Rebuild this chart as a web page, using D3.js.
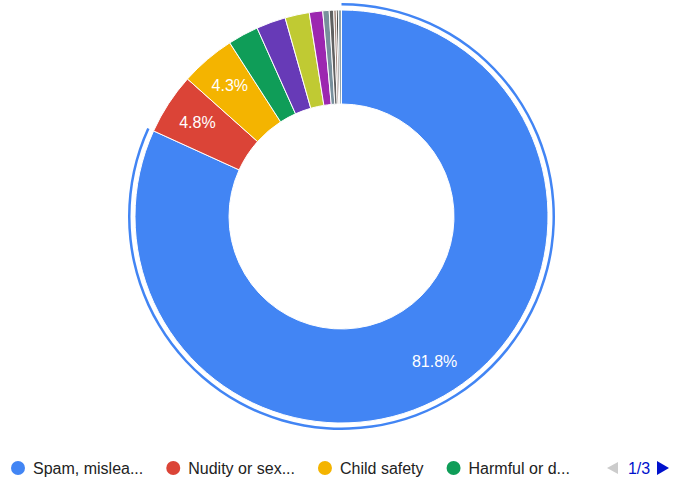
<!DOCTYPE html>
<html>
<head>
<meta charset="utf-8">
<script src="https://cdn.jsdelivr.net/npm/d3@7"></script>
<style>
    body { margin: 0; background: #ffffff; }
    svg { display: block; font-family: Arial, "Liberation Sans", sans-serif; }
</style>
</head>
<body>
<div id="chart"></div>
<script>
// Data
const categories = [
    "Spam, misleading and scams", "Nudity or sexual content", "Child safety",
    "Harmful or dangerous", "Violent or graphic", "Harassment and cyberbullying",
    "Promotion of violence", "Hateful or abusive", "Other", "Impersonation",
    "Misinformation", "Terrorist content"
];
const shares = [81.8, 4.8, 4.3, 2.4, 2.3, 1.9, 1.05, 0.5, 0.35, 0.2, 0.15, 0.25];
const colors = ["#4285f4", "#db4437", "#f4b400", "#0f9d58", "#673ab7", "#c0ca33",
                "#9c27b0", "#78909c", "#616161", "#a1887f", "#212121", "#90a4ae"];
const legendLabels = ["Spam, mislea...", "Nudity or sex...", "Child safety", "Harmful or d..."];
const pageLabel = "1/3";

const params = {
    selector: "chart",
    width: 673,
    height: 487,
    cx: 341.5,
    cy: 216.5,
    outer: 206.5,
    inner: 112.5,
    labelR: 172,
    legendY: 468
}

const svg = d3.select(`#${params.selector}`)
    .append("svg")
    .attr("width", params.width)
    .attr("height", params.height);

const total = d3.sum(shares);
const pie = d3.pie().sort(null).value(d => d);
const arcs = pie(shares);

const arc = d3.arc().innerRadius(params.inner).outerRadius(params.outer);
const labelArc = d3.arc().innerRadius(params.labelR).outerRadius(params.labelR);
const ringArc = d3.arc().innerRadius(211).outerRadius(213.5);

const g = svg.append("g")
    .attr("transform", `translate(${params.cx},${params.cy})`);

g.selectAll("path.slice")
    .data(arcs)
    .join("path")
    .attr("class", "slice")
    .attr("d", arc)
    .attr("fill", (d, i) => colors[i])
    .attr("stroke", "#ffffff")
    .attr("stroke-width", 1);

// hover ring on the first slice
g.append("path")
    .attr("d", ringArc(arcs[0]))
    .attr("fill", colors[0]);

const fmt = d3.format(".1%");

g.selectAll("text.pct")
    .data(arcs.filter(d => d.value / total >= 0.03))
    .join("text")
    .attr("class", "pct")
    .attr("transform", d => `translate(${labelArc.centroid(d)})`)
    .attr("text-anchor", "middle")
    .attr("dy", "0.35em")
    .attr("fill", "#ffffff")
    .style("font-size", "16px")
    .text(d => fmt(d.value / total));

// Legend
const legend = svg.append("g");
let x = 11;
legendLabels.forEach((label, i) => {
    legend.append("circle")
        .attr("cx", x + 7)
        .attr("cy", params.legendY)
        .attr("r", 7)
        .attr("fill", colors[i]);
    const t = legend.append("text")
        .attr("x", x + 22)
        .attr("y", params.legendY)
        .attr("dy", "0.35em")
        .attr("fill", "#222222")
        .style("font-size", "16px")
        .text(label);
    x += 22 + t.node().getComputedTextLength() + 23;
});

// Pager
legend.append("path")
    .attr("d", `M618,${params.legendY - 6}L607,${params.legendY}L618,${params.legendY + 6}Z`)
    .attr("fill", "#cccccc");
legend.append("text")
    .attr("x", 639)
    .attr("y", params.legendY)
    .attr("dy", "0.35em")
    .attr("text-anchor", "middle")
    .attr("fill", "#0011cc")
    .style("font-size", "16px")
    .text(pageLabel);
legend.append("path")
    .attr("d", `M657,${params.legendY - 7}L669,${params.legendY}L657,${params.legendY + 7}Z`)
    .attr("fill", "#0011cc");
</script>
</body>
</html>
